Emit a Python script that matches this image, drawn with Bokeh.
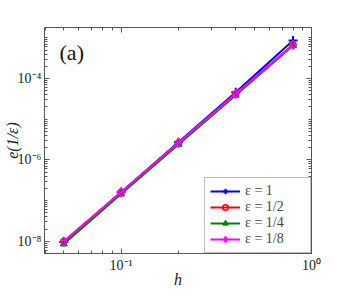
from bokeh.plotting import figure
from bokeh.models import LogAxis, FixedTicker, Legend, LegendItem, Label, Range1d
from bokeh.embed import file_html
from bokeh.resources import INLINE

h = [0.05, 0.1, 0.2, 0.4, 0.8]
e_1 = [9.6e-9, 1.6e-7, 2.7e-6, 4.6e-5, 8.6e-4]
e_2 = [9.8e-9, 1.6e-7, 2.6e-6, 4.2e-5, 6.8e-4]
e_4 = [8.6e-9, 1.45e-7, 2.4e-6, 3.9e-5, 6.5e-4]
e_8 = [9.8e-9, 1.6e-7, 2.6e-6, 4.2e-5, 6.7e-4]
labels = ["ε = 1", "ε = 1/2", "ε = 1/4", "ε = 1/8"]

x_major = [0.1, 1.0]
x_labels = {0.1: "10⁻¹", 1.0: "10⁰"}
y_major = [1e-8, 1e-6, 1e-4]
y_labels = {1e-8: "10⁻⁸", 1e-6: "10⁻⁶", 1e-4: "10⁻⁴"}

x_minor = [k * 10.0 ** n for n in (-2, -1) for k in range(2, 10)]
y_minor = [k * 10.0 ** n for n in range(-9, -2) for k in range(1, 10)]

FONT = "Liberation Serif"

p = figure(width=327, height=290, x_axis_type="log", y_axis_type="log",
           x_range=Range1d(0.0396, 1.0), y_range=Range1d(5.0e-9, 1.8e-3),
           output_backend="svg", toolbar_location=None,
           min_border_left=30, min_border_right=16, min_border_top=27, min_border_bottom=20)
p.grid.visible = False
p.outline_line_color = "#7f7f7f"
p.background_fill_color = "white"
p.border_fill_color = "white"

for ax in (p.xaxis[0], p.yaxis[0]):
    ax.axis_line_color = "#555555"
    ax.major_tick_in = 5
    ax.major_tick_out = 0
    ax.minor_tick_in = 3
    ax.minor_tick_out = 0
    ax.major_tick_line_color = "#555555"
    ax.minor_tick_line_color = "#555555"
    ax.major_label_text_font = FONT
    ax.major_label_text_font_size = "14px"
    ax.major_label_text_color = "#222222"
    ax.axis_label_text_font = FONT
    ax.axis_label_text_font_style = "italic"
    ax.axis_label_text_font_size = "16px"
    ax.axis_label_text_color = "#222222"

p.xaxis[0].ticker = FixedTicker(ticks=x_major, minor_ticks=x_minor)
p.xaxis[0].major_label_overrides = x_labels
p.xaxis[0].axis_label = "h"
p.xaxis[0].major_label_standoff = 4
p.xaxis[0].axis_label_standoff = -5
p.yaxis[0].ticker = FixedTicker(ticks=y_major, minor_ticks=y_minor)
p.yaxis[0].major_label_overrides = y_labels
p.yaxis[0].axis_label = "e(1/ε)"
p.yaxis[0].major_label_standoff = 3
p.yaxis[0].axis_label_standoff = -6

top = LogAxis(ticker=FixedTicker(ticks=x_major, minor_ticks=x_minor),
              major_label_text_alpha=0, major_label_text_font_size="1px", major_label_standoff=0,
              major_tick_in=5, major_tick_out=0,
              minor_tick_in=3, minor_tick_out=0, axis_line_color="#555555",
              major_tick_line_color="#555555", minor_tick_line_color="#555555")
right = LogAxis(ticker=FixedTicker(ticks=y_major, minor_ticks=y_minor),
                major_label_text_alpha=0, major_label_text_font_size="1px", major_label_standoff=0,
                major_tick_in=5, major_tick_out=0,
                minor_tick_in=3, minor_tick_out=0, axis_line_color="#555555",
                major_tick_line_color="#555555", minor_tick_line_color="#555555")
p.add_layout(top, "above")
p.add_layout(right, "right")

items = []
l1 = p.line(h, e_1, color="blue", line_width=2)
m1 = p.scatter(h, e_1, marker="cross", size=9, line_color="blue", line_width=2)
items.append(LegendItem(label=labels[0], renderers=[l1, m1]))
l2 = p.line(h, e_2, color="red", line_width=2)
m2 = p.scatter(h, e_2, marker="circle", size=6, line_color="red", fill_color="white", fill_alpha=0, line_width=1.5)
items.append(LegendItem(label=labels[1], renderers=[l2, m2]))
l3 = p.line(h, e_4, color="green", line_width=2)
m3 = p.scatter(h, e_4, marker="triangle", size=7, line_color="green", fill_color="green")
items.append(LegendItem(label=labels[2], renderers=[l3, m3]))
l4 = p.line(h, e_8, color="magenta", line_width=2)
m4 = p.scatter(h, e_8, marker="diamond", size=9, line_color="magenta", fill_color="white", fill_alpha=0, line_width=1.5)
items.append(LegendItem(label=labels[3], renderers=[l4, m4]))

legend = Legend(items=items, location="bottom_right", margin=0,
                label_text_font=FONT, label_text_font_size="14px",
                border_line_color="#7f7f7f", border_line_width=1,
                background_fill_alpha=1.0, glyph_width=30, glyph_height=14,
                spacing=0, padding=5, label_standoff=5, label_height=14, label_width=60)
p.add_layout(legend, "center")

p.add_layout(Label(x=0.0475, y=9.0e-4, text="(a)", text_font=FONT, text_font_size="22px",
                   text_baseline="top", text_color="#111111"))

open("out.html", "w").write(file_html(p, INLINE))
